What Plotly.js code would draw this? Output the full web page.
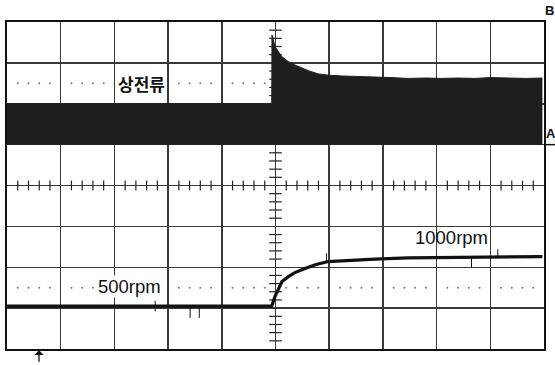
<!DOCTYPE html>
<html><head><meta charset="utf-8">
<script src="https://cdn.plot.ly/plotly-3.0.1.min.js"></script>
<style>html,body{margin:0;padding:0;background:#fff}#c{width:555px;height:365px}</style>
</head><body><div id="c"></div>
<script>
// Phase current envelope (divisions)
const curTime   = [0, 1.0, 2.0, 3.0, 4.0, 4.93, 4.935, 4.99, 5.12, 5.24, 5.36, 5.49, 5.61, 5.80, 5.98, 6.23, 6.55, 6.85, 7.15, 7.47, 7.8, 8.09, 8.4, 8.71, 9.0, 9.34, 9.65, 9.97];
const curTop    = [6.0, 6.0, 6.0, 6.0, 6.0, 6.0, 7.68, 7.40, 7.15, 7.03, 6.95, 6.87, 6.81, 6.73, 6.70, 6.68, 6.67, 6.66, 6.64, 6.62, 6.63, 6.62, 6.63, 6.62, 6.64, 6.63, 6.62, 6.63];
const curBottom = [5.0, 5.0, 5.0, 5.0, 5.0, 5.0, 5.0, 5.0, 5.0, 5.0, 5.0, 5.0, 5.0, 5.0, 5.0, 5.0, 5.0, 5.0, 5.0, 5.0, 5.0, 5.0, 5.0, 5.0, 5.0, 5.0, 5.0, 5.0];
// Speed trace (divisions)
const spdTime = [0, 0.5, 1.0, 1.5, 2.0, 2.5, 3.0, 3.5, 4.0, 4.5, 4.93, 4.99, 5.12, 5.24, 5.36, 5.55, 5.74, 5.98, 6.23, 6.85, 7.47, 8.09, 8.71, 9.34, 9.97];
const spdVal  = [1.05, 1.05, 1.05, 1.06, 1.05, 1.05, 1.05, 1.05, 1.06, 1.05, 1.05, 1.28, 1.65, 1.77, 1.87, 1.97, 2.06, 2.14, 2.16, 2.20, 2.23, 2.24, 2.25, 2.25, 2.26];
// Glitch spikes on speed trace: x, from, to
const spikeX    = [2.76, 3.41, 3.58, 5.95, 8.65, 9.14];
const spikeFrom = [0.92, 1.05, 1.05, 2.14, 2.25, 2.25];
const spikeTo   = [1.18, 0.76, 0.76, 2.34, 2.00, 2.44];
const labels = ["상전류", "500rpm", "1000rpm"];
const channelLabels = ["A", "B"];

const sx = [], sy = [];
spikeX.forEach((x, i) => { sx.push(x, x, null); sy.push(spikeFrom[i], spikeTo[i], null); });

// graticule decorations
const dotX = [], dotY = [], hTickX = [], hTickY = [], vTickX = [], vTickY = [];
for (let k = 1; k < 50; k++) {
  if (k % 5 === 0) continue;
  const v = k * 0.2;
  dotX.push(v, v); dotY.push(1.5, 6.5);
  hTickX.push(v); hTickY.push(4);
}
for (let k = 1; k < 40; k++) {
  if (k % 5 === 0) continue;
  vTickX.push(5); vTickY.push(k * 0.2);
}

const traces = [
  {x: dotX, y: dotY, mode: 'markers', marker: {symbol: 'circle', size: 2, color: '#777'}, hoverinfo: 'skip'},
  {x: hTickX, y: hTickY, mode: 'markers', marker: {symbol: 'line-ns', size: 7, line: {width: 1.2, color: '#222'}}, hoverinfo: 'skip'},
  {x: vTickX, y: vTickY, mode: 'markers', marker: {symbol: 'line-ew', size: 9, line: {width: 1.2, color: '#222'}}, hoverinfo: 'skip'},
  {x: curTime, y: curBottom, mode: 'lines', line: {width: 0, color: '#1e1e1e'}, hoverinfo: 'skip'},
  {x: curTime, y: curTop, mode: 'lines', fill: 'tonexty', fillcolor: '#1e1e1e', line: {width: 1, color: '#1e1e1e'}},
  {x: sx, y: sy, mode: 'lines', line: {width: 1, color: '#111'}, connectgaps: false},
  {x: spdTime, y: spdVal, mode: 'lines', line: {width: 3.2, color: '#111'}}
];

const ax = {showticklabels: false, ticks: '', showgrid: true, gridcolor: '#3a3a3a', gridwidth: 1.5,
  zeroline: false, showline: true, linecolor: '#111', linewidth: 2, mirror: true, fixedrange: true};

const layout = {
  width: 555, height: 365,
  margin: {l: 7, r: 11, t: 22, b: 16},
  paper_bgcolor: '#fff', plot_bgcolor: '#fff',
  showlegend: false,
  xaxis: Object.assign({}, ax, {range: [0, 10], dtick: 1, tick0: 0}),
  yaxis: Object.assign({}, ax, {range: [0, 8], dtick: 1, tick0: 0}),
  shapes: [
    {type: 'line', xref: 'paper', yref: 'y', x0: 1.0, x1: 1.03, y0: 5, y1: 5, line: {color: '#111', width: 1.5}}
  ],
  annotations: [
    {x: 2.51, y: 6.5, text: '<b>' + labels[0] + '</b>', showarrow: false, bgcolor: '#fff',
     font: {family: 'Noto Sans CJK KR', size: 17, color: '#111'}, borderpad: 0},
    {x: 2.29, y: 1.54, text: labels[1], showarrow: false, bgcolor: '#fff',
     font: {family: 'Liberation Sans, Arial', size: 18.5, color: '#111'}, borderpad: 0},
    {x: 8.27, y: 2.72, text: labels[2], showarrow: false,
     font: {family: 'Liberation Sans, Arial', size: 18.5, color: '#111'}, borderpad: 0},
    {xref: 'paper', yref: 'paper', x: 1.0, xanchor: 'left', xshift: 1, y: 0.625, yanchor: 'bottom', yshift: 3,
     text: '<b>' + channelLabels[0] + '</b>', showarrow: false, borderpad: 0,
     font: {family: 'Liberation Sans', size: 13, color: '#111'}},
    {xref: 'paper', yref: 'paper', x: 1.0, xanchor: 'left', xshift: 0, y: 1.0, yanchor: 'bottom', yshift: 3,
     text: '<b>' + channelLabels[1] + '</b>', showarrow: false, borderpad: 0,
     font: {family: 'Liberation Sans', size: 13, color: '#111'}},
    {xref: 'paper', yref: 'paper', x: 0.0596, y: -0.004, text: '', showarrow: true,
     ax: 0, ay: 13, arrowhead: 1, arrowsize: 1.2, arrowwidth: 1.3, arrowcolor: '#111', standoff: 0}
  ]
};

Plotly.newPlot('c', traces, layout, {displayModeBar: false, staticPlot: true});
</script></body></html>
